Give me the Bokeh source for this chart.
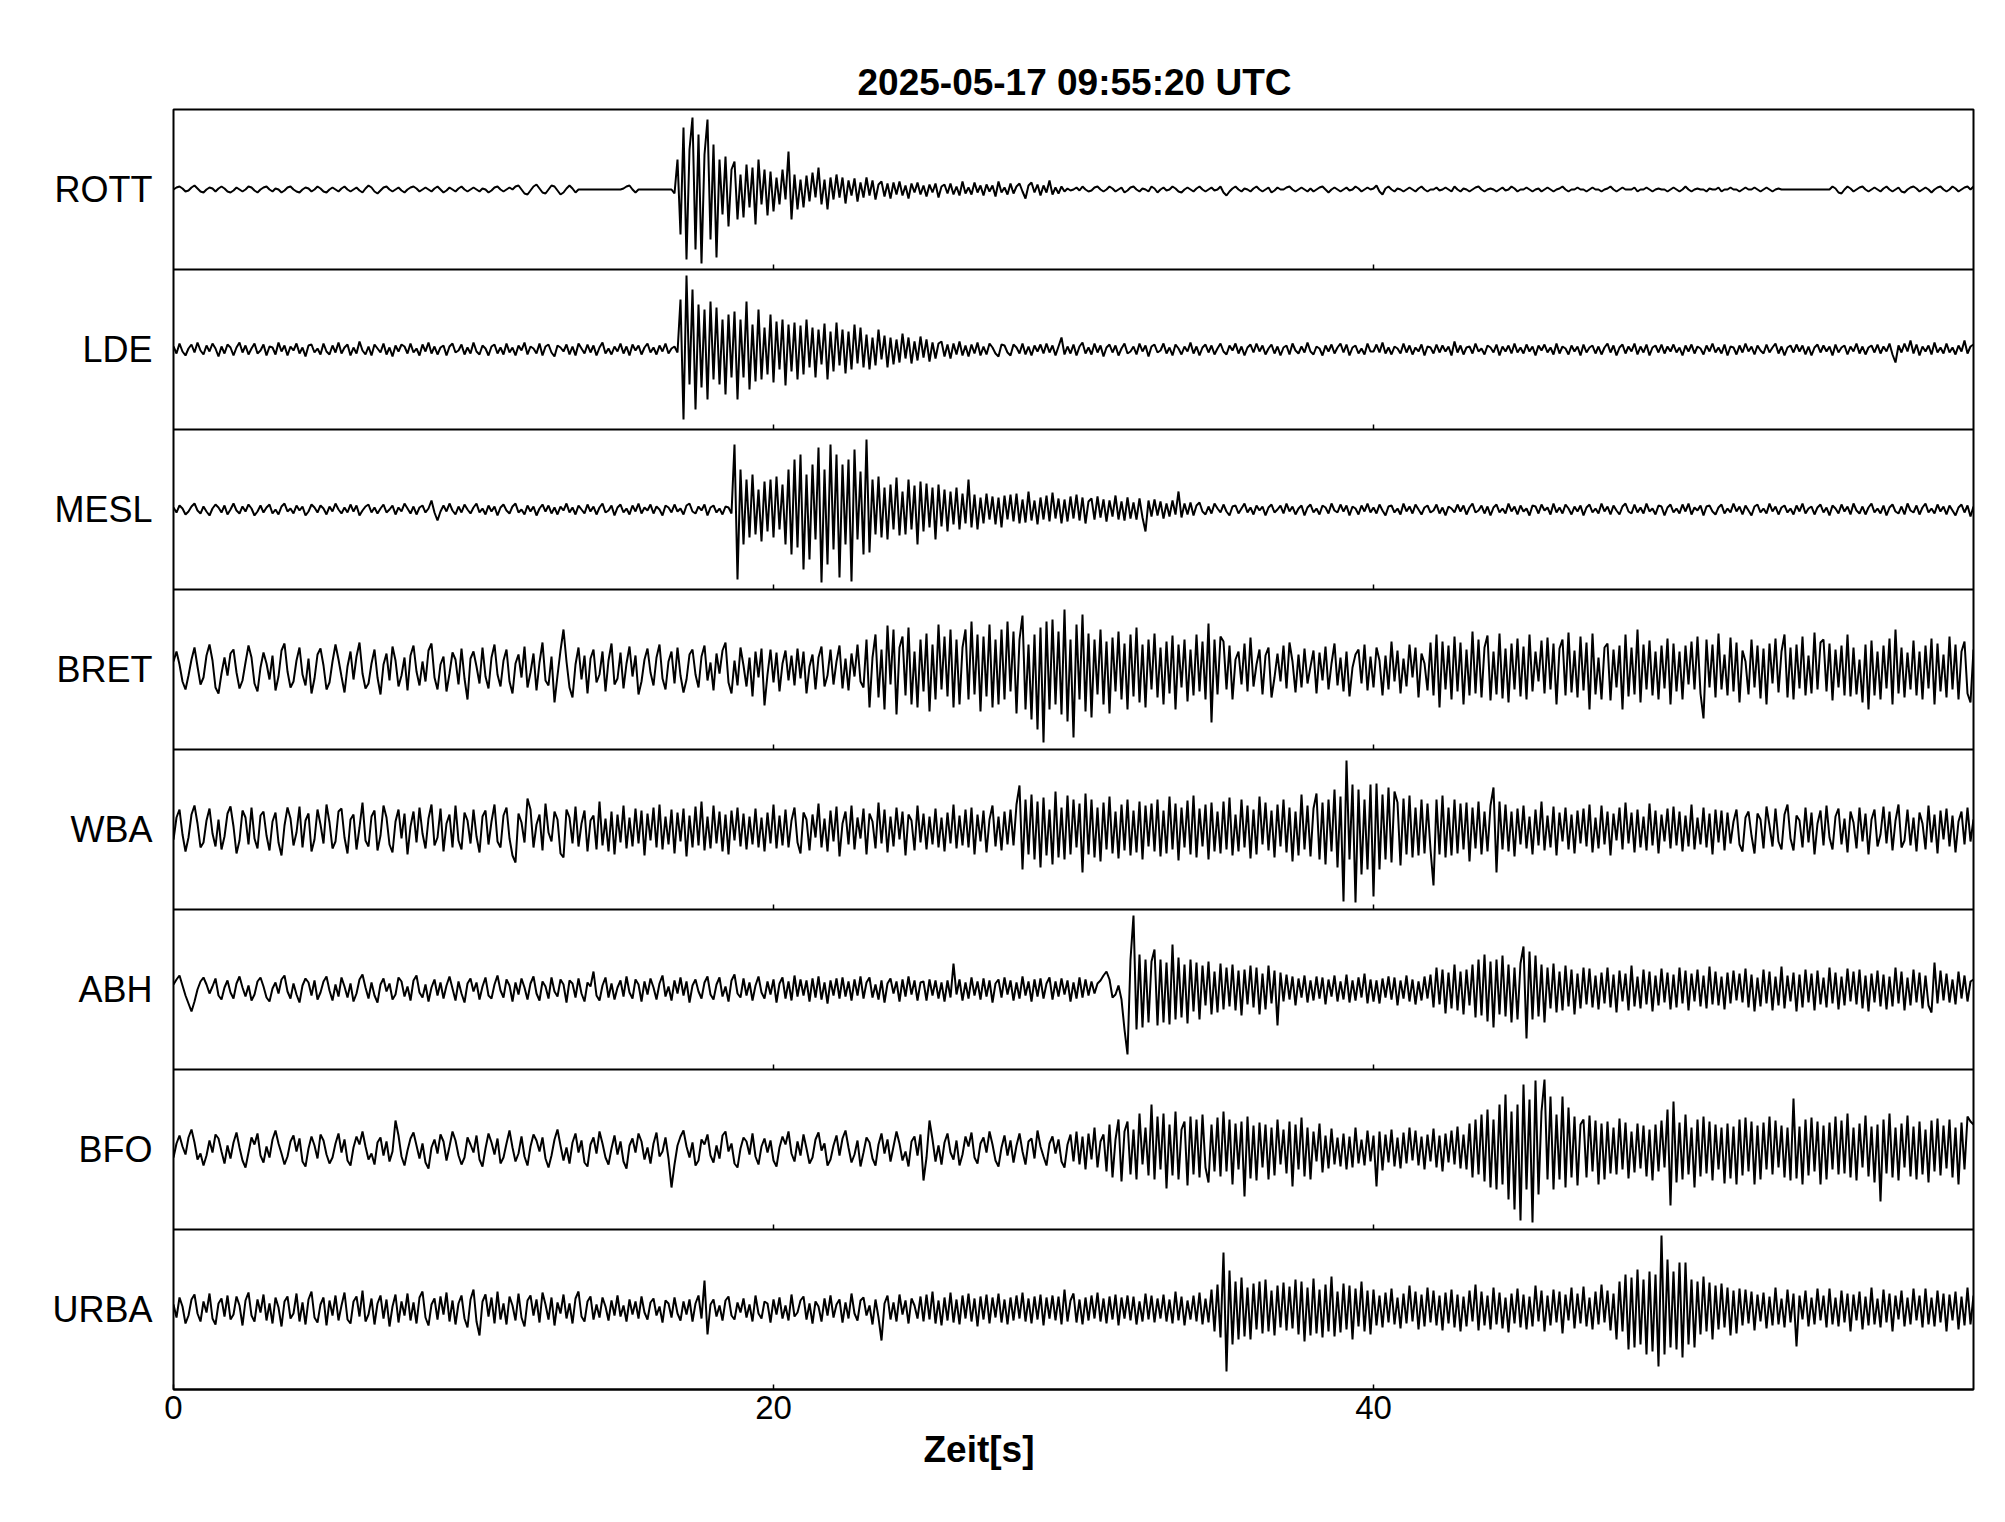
from bokeh.plotting import figure
from bokeh.models import FixedTicker, Span, Title
from bokeh.embed import file_html
from bokeh.resources import INLINE

TITLE = "2025-05-17  09:55:20 UTC"
X_LABEL = "Zeit[s]"
STATIONS = ["ROTT", "LDE", "MESL", "BRET", "WBA", "ABH", "BFO", "URBA"]
X_TICKS = [0, 20, 40]
X_MAX = 60
DT = 0.1  # seconds between samples (one row below = one second)

# trace deflections, units: 1/160 of a panel height (positive = up)
rott = [
    0, 2, 3, 1, -2, -1, 2, 4, 1, -2,
    -3, 0, 2, 1, -2, 1, 3, 1, -2, -3,
    -1, 2, 0, -2, 0, 3, 2, -1, -3, 0,
    2, 3, 0, -2, 1, 0, -3, -1, 2, 3,
    0, -2, -3, 0, 2, 1, -2, 0, 3, 1,
    -2, -3, 0, 2, 0, -2, 1, 3, 0, -2,
    0, 2, -1, -3, 1, 4, 2, -2, -4, -1,
    2, 3, 0, -2, 0, 2, -1, -3, 0, 2,
    3, 1, -2, 0, 2, 0, -2, 1, 3, 0,
    -3, -1, 2, 0, -2, 1, 3, 0, -2, 0,
    2, 0, -2, 1, 0, -3, -1, 2, 3, 0,
    -2, 0, 2, 0, 3, 4, 0, -4, -5, -1,
    3, 5, 1, -3, -4, 0, 4, 3, -1, -5,
    -3, 1, 4, 1, -3, 0, 0, 0, 0, 0,
    0, 0, 0, 0, 0, 0, 0, 0, 0, 0,
    1, 3, 4, 0, -3, 0, 0, 0, 0, 0,
    0, 0, 0, 0, 0, 0, 0, -4, 30, -45,
    62, -70, 40, 72, -60, 55, -74, 35, 70, -50,
    45, -68, 30, -25, 33, -37, 20, 28, -30, 15,
    -28, 25, -18, 22, -35, 30, -15, 20, -26, 18,
    -22, 12, -15, 20, -10, 38, -30, 15, -20, 10,
    -18, 14, -12, 17, -8, 22, -15, 10, -20, 12,
    -10, 15, -8, 12, -14, 9, -6, 11, -12, 7,
    -8, 12, -6, 9, -10, 5, 8, -7, 6, -9,
    7, -5, 8, -6, 4, -9, 6, -3, 7, -5,
    4, -7, 5, -3, 6, -8, 3, 5, -4, 6,
    -5, 3, -6, 8, -4, 2, -5, 7, -3, 4,
    -6, 5, -2, 4, -7, 8, -3, 2, -5, 6,
    -4, 3, 6, -2, -9, 4, 7, -3, 5, -6,
    4, -3, 9, -5, 2, -4, 3, -2, 1, -1,
    0, 2, -1, 3, 0, -2, -1, 2, 3, 0,
    -2, 0, 3, 1, -2, 0, 2, -3, -1, 2,
    3, 0, -2, 1, 0, -2, 3, 1, -3, 0,
    2, -1, 0, 3, 1, -2, -3, 0, 2, 0,
    -2, 1, 3, 0, -2, 0, 2, -1, 0, 3,
    -3, -6, -2, 1, 3, 0, -2, 1, 0, -2,
    1, 3, 0, -2, 0, 2, -3, -1, 2, 0,
    0, 2, 3, 0, -2, 0, 2, 0, -2, 1,
    -2, 0, 2, 3, 0, -3, 0, 2, 0, -2,
    0, 2, -1, 0, 3, 1, -2, 0, 2, 0,
    1, 4, -2, -5, 1, 3, 0, -2, 1, 0,
    -2, 0, 2, 0, -2, 1, 3, 0, -2, 0,
    0, 2, -1, 0, 2, 0, -2, 3, 0, -2,
    1, 0, -2, 0, 2, 3, 0, -2, 0, 1,
    0, -2, 0, 2, -1, 0, 3, 1, -2, 0,
    0, 2, 0, -2, 0, 1, -2, 0, 2, 0,
    -2, 0, 1, 3, 0, -2, 0, 0, 2, 0,
    0, -2, 0, 2, 0, 0, -2, 0, 1, 3,
    0, -2, 0, 2, 0, 0, 0, 2, -2, 0,
    0, 2, 0, -2, 0, 1, 0, 0, -2, 0,
    2, 0, -2, 0, 3, 0, -2, 0, 1, 0,
    0, -2, 1, 0, 0, 2, -2, 0, 0, 2,
    0, 0, -2, 0, 2, 0, 0, 2, 0, -2,
    0, 2, 0, -2, 0, 1, 0, 0, 0, 0,
    0, 0, 0, 0, 0, 0, 0, 0, 0, 0,
    0, 0, 0, 3, 1, -3, -4, 0, 3, 1,
    -2, 0, 2, 3, 0, -2, 0, 2, 0, -2,
    1, 3, 0, -2, 0, 2, -2, -3, 0, 2,
    3, 1, -2, 0, 2, 0, -3, 0, 2, 3,
    0, -2, 0, 3, 1, -2, 0, 2, 3, 0,
    3]

lde = [
    3, -4, 6, -2, -6, 1, 5, -3, 7, -1,
    -5, 4, -2, 6, 1, -7, 3, -4, 5, 2,
    -6, 2, 7, -3, 4, -5, 1, 6, -4, -1,
    5, -6, 3, 2, -5, 7, -2, 4, -6, 3,
    -1, 6, -4, 2, -7, 4, 5, -3, 1, -5,
    6, -2, -5, 4, -3, 7, -4, 2, 5, -6,
    2, -4, 8, -1, -5, 3, -6, 5, 1, -3,
    6, -5, 2, -7, 4, -2, 5, 3, -4, 6,
    -3, 1, -6, 5, -2, 7, -4, 3, -5, 2,
    4, -6, 3, 6, -3, -1, 5, -5, 2, -4,
    7, -2, -5, 4, 1, -6, 3, 5, -4, 2,
    -5, 6, -3, 2, -6, 4, -1, 7, -5, 3,
    1, -4, 6, -6, 3, 5, -3, -7, 4, 2,
    -2, 5, -5, 3, -6, 6, 1, -4, 5, -3,
    4, -6, 2, 7, -4, 1, -5, 3, -2, 6,
    -4, 3, -6, 5, -1, 4, -5, 2, 6, -3,
    2, -5, 4, -2, 6, -4, 1, 3, -3, 50,
    -70, 74, -35, 60, -60, 45, -38, 40, -50, 48,
    -30, 42, -35, 30, -45, 35, -28, 38, -50, 30,
    -28, 48, -40, 25, -32, 40, -30, 22, -25, 35,
    -33, 28, -20, 30, -36, 25, -22, 27, -30, 24,
    -25, 30, -18, 22, -28, 20, -15, 26, -30, 18,
    -22, 27, -16, 20, -24, 18, -20, 25, -14, 22,
    -18, 15, -20, 12, -16, 20, -10, 14, -18, 12,
    -15, 10, -13, 16, -9, 12, -14, 8, -11, 13,
    -8, 10, -12, 7, -9, 6, 8, -7, 5, -9,
    6, -5, 8, -6, 4, -7, 5, -4, 7, -6,
    3, -5, 6, 2, -4, -7, 5, 4, -3, -6,
    5, 2, -4, 6, -5, 3, -6, 4, -2, 5,
    -4, 6, -3, 4, -6, 3, 12, -5, 3, -4,
    5, -6, 3, 7, -4, 2, -5, 6, -3, 4,
    -7, 2, 5, -3, 4, -6, 1, 6, -4, -2,
    3, -5, 6, -2, 4, -7, 3, 5, -3, -1,
    6, -4, 2, -6, 5, 1, -5, 3, -2, 7,
    -4, 3, -6, 2, 5, -3, 4, -5, 1, 6,
    -2, -5, 4, -1, 6, -4, 3, -6, 2, 5,
    -3, 6, -2, 4, -5, 1, 5, -4, 3, -6,
    2, 4, -5, 6, -1, -4, 3, -3, 7, -2,
    -5, 3, 1, -6, 4, -2, 5, -4, 2, 6,
    -3, 5, -6, 2, 4, -4, 1, -5, 6, -2,
    -2, 5, -3, 7, -4, 2, -5, 3, 1, -4,
    6, -3, 4, -5, 2, -2, 5, -6, 3, 2,
    -4, 5, -3, 4, -2, 3, -6, 8, -3, 4,
    -5, 2, 3, -4, 6, -2, 1, -5, 4, 2,
    -3, 5, -6, 3, -2, 4, -4, 6, -3, 2,
    -4, 5, -2, 3, -6, 4, -1, 5, -3, 2,
    -5, 6, -4, 3, 1, -5, 4, -2, 3, -6,
    5, -3, 2, 4, -4, 3, -5, 2, 6, -3,
    4, -6, 2, 5, -4, 3, -2, 6, -5, 3,
    -3, 5, -6, 2, 4, -3, 5, -4, 3, -2,
    5, -3, 2, -6, 4, -2, 5, -4, 3, 1,
    -5, 4, -2, 6, -3, 2, -4, 5, -6, 3,
    2, -5, 4, -3, 6, -2, 3, -5, 4, -1,
    -4, 5, -3, 2, 6, -4, 3, -6, 2, 4,
    -3, 5, -2, 4, -5, 3, -6, 2, 5, -3,
    4, -2, 3, -6, 5, -3, 2, 4, -5, 3,
    -2, 6, -4, 3, -5, 2, 4, -3, 5, -4,
    3, -2, 6, -5, -13, 4, -3, 6, -2, 9,
    -4, 5, -6, 3, -2, 4, -5, 7, -3, 2,
    -4, 6, -3, 2, -5, 4, -2, 9, -4, 3,
    5]

mesl = [
    2, -3, 4, 1, -5, -2, 3, 6, -1, -4,
    3, -2, -6, 1, 5, 2, -3, 4, -5, 0,
    6, -1, -4, 3, -2, 5, 1, -6, -2, 4,
    -3, 2, 5, -4, 0, -5, 3, 6, -2, 1,
    -4, 4, -1, 3, -6, -2, 5, 2, -3, 4,
    1, -5, 3, -2, 6, 0, -4, 2, -3, 5,
    -2, 4, -6, -1, 3, 5, -3, 2, -4, 1,
    5, -3, 0, 4, -5, 2, -2, 6, 1, -4,
    3, -5, 2, 4, -3, 1, 9, -3, -11, -2,
    4, -2, 6, -1, -5, 3, -3, 5, 0, -4,
    2, 6, -3, 1, -5, 4, -2, 3, -6, 2,
    5, -1, -4, 3, 6, -3, 0, -5, 4, -2,
    3, -6, 1, 5, -2, 4, -4, 2, -5, 3,
    -1, 6, -3, 2, -5, 4, 0, -4, 5, -2,
    3, -5, 2, 6, -3, -1, 4, -6, 2, 5,
    -3, 1, -5, 4, -2, 6, -4, 2, -1, 5,
    -4, 3, 0, -6, 4, 2, -3, 5, -2, 1,
    -5, 4, 6, -2, -4, 3, -1, 5, -6, 2,
    4, -3, 1, -5, 3, 2, -4, 65, -70, 40,
    -35, 30, -28, 35, -25, 20, -32, 28, -22, 30,
    -28, 33, -20, 25, -35, 40, -45, 50, -38, 55,
    -60, 35, -50, 45, -30, 62, -73, 40, -55, 65,
    -40, 55, -68, 45, -35, 50, -72, 60, -30, 38,
    -45, 70, -43, 30, -25, 33, -28, 22, -30, 25,
    -20, 32, -26, 18, -25, 30, -20, 24, -35, 28,
    -22, 26, -18, 22, -30, 25, -17, 20, -22, 18,
    -15, 22, -20, 16, -14, 30, -18, 15, -20, 12,
    -14, 16, -10, 13, -15, 12, -18, 14, -10, 15,
    -12, 16, -14, 10, -13, 18, -11, 9, -15, 12,
    -10, 14, -12, 17, -9, 11, -14, 10, -12, 13,
    -9, 15, -11, 12, -14, 8, 11, -10, 13, -8,
    10, -12, 9, -7, 14, -10, 8, -11, 12, -9,
    7, -10, 11, -8, -22, 9, -7, 10, -6, 8,
    -9, 6, -7, 9, -5, 18, -8, 6, -5, 7,
    -6, 4, 7, -2, -5, 3, -4, 6, 1, -3,
    5, -2, -6, 3, 4, -4, 1, 6, -3, 2,
    -5, 4, -1, 3, -6, 2, 5, -3, 0, 4,
    -4, 6, -2, 3, -5, 1, 4, -6, 2, 5,
    -3, 1, -5, 4, 2, -4, 6, -1, -3, 5,
    -2, 4, -6, 3, 1, -5, 4, -2, 6, -3,
    2, -4, 5, -1, -6, 3, 4, -3, 1, -5,
    6, -2, 3, -4, 5, 0, -5, 2, 4, -3,
    -1, 5, -4, 2, -6, 3, 1, -3, 5, -2,
    4, -5, 2, 6, -3, -1, 4, -4, 3, -6,
    2, 5, -3, 1, -4, 6, -2, 3, -5, 4,
    -2, 1, -6, 4, 3, -4, 5, -1, 2, -5,
    6, -3, 2, -4, 5, 1, -5, 3, -2, 4,
    -6, 2, 5, -3, 1, -4, 6, -2, 3, -5,
    4, -1, -5, 3, 6, -2, -4, 5, -3, 2,
    -4, 6, -2, 1, -5, 4, 3, -6, 2, 5,
    -3, 1, -4, 5, -2, 6, -5, 2, -1, 4,
    -6, 3, 4, -2, -5, 2, 5, -4, 1, -3,
    6, -2, 3, -5, 4, -1, -6, 3, 5, -3,
    1, -4, 6, -2, 3, -5, 2, 4, -3, 1,
    -5, 4, -2, 6, -4, 1, 3, -5, 2, 5,
    -3, 2, -6, 4, 1, -4, 5, -2, 3, -5,
    6, -1, -4, 3, -5, 2, 6, -3, 1, -4,
    4, -6, 2, 5, -2, -4, 3, -5, 6, -1,
    -3, 4, -5, 2, 6, -3, 1, -4, 5, -2,
    3, -5, 4, -1, -6, 2, 5, -3, 4, -7,
    3]

bret = [
    8, 18, 5, -12, -20, -6, 10, 22, 3, -15,
    -8, 14, 25, 9, -18, -24, -4, 12, -6, 16,
    20, -3, -19, -11, 7, 24, 12, -14, -22, 2,
    17, 6, -10, 14, -21, -7, 19, 26, -2, -18,
    -12, 9, 22, -5, -16, 11, -24, -9, 15, 21,
    4, -20, -13, 8, 25, 10, -7, -23, 3, 18,
    -10, 13, 27, -4, -19, -14, 6, 20, -8, -25,
    5, 16, -11, 23, 9, -17, -6, 12, -21, 14,
    24, -2, -16, 8, -12, 19, 26, -8, -20, 5,
    13, -22, -4, 17, 10, -15, 21, -9, -30, 11,
    18, 3, -14, 22, -7, -19, 12, 25, -5, -17,
    9, 20, -12, -24, 6, 15, -8, 23, -18, -3,
    16, -21, 7, 27, -11, -16, 13, -33, -6, 19,
    40, 8, -18, -28, 5, 22, -10, 14, -24, 11,
    20, -13, -5, 18, -22, 9, 26, -15, -9, 17,
    -19, 6, 23, -7, 14, -25, -12, 10, 21, -3,
    -16, 12, 25, -9, -20, 8, 18, -14, 22, -6,
    -23, -10, 15, 20, -5, -18, 13, 24, -11, 7,
    -21, 16, -4, 19, 27, -13, -24, 9, -16, 22,
    4, -17, 12, -27, 18, -8, 21, -36, -5, 20,
    -13, 17, -22, 6, 19, -11, 14, -16, 21, -9,
    18, -24, 3, 15, -20, 12, 23, -17, -6, 20,
    -15, 8, 24, -19, 11, -21, 16, -7, 25, -12,
    -18, 30, -38, 12, 35, -28, 20, -40, 44, -15,
    40, -45, 22, 33, -26, 42, -35, 18, -38, 30,
    -22, 36, -42, 25, -30, 45, -20, 33, -27, 40,
    -38, 30, -35, 22, 40, -30, 48, -25, 35, -42,
    33, -27, 45, -38, 30, -35, 40, -30, 48, -22,
    38, -44, 30, 54, -40, 25, -50, 35, -60, 42,
    -73, 48, -40, 50, -35, 38, -45, 60, -52, 30,
    -68, 45, -30, 55, -42, 36, -48, 30, -25, 40,
    -35, 28, -44, 32, -22, 38, -30, 26, -40, 35,
    -27, 42, -33, 25, -38, 30, -20, 36, -28, 22,
    -35, 28, -24, 34, -40, 25, -18, 30, -32, 20,
    -26, 35, -22, 28, -30, 46, -53, 30, -25, 33,
    28, -20, 24, -30, 10, 18, -15, 26, -22, 32,
    -17, 5, 20, -25, 14, 22, -28, -8, 16, -12,
    24, -19, 27, 8, -23, 15, -18, 21, -14, 3,
    19, -24, 17, -11, 23, -20, 6, 26, -16, 12,
    -22, 18, -27, 2, 15, 20, -14, 25, -21, 13,
    -18, 22, 9, -26, 14, -20, 28, -12, 19, -24,
    11, -17, 25, -8, 22, -28, 16, 6, -21, 27,
    -26, 35, -38, 28, -20, 24, -30, 33, -22, 27,
    -35, 20, -26, 38, -24, 30, -28, 22, 34, -31,
    18, -25, 36, -29, 21, -33, 26, -20, 31, -27,
    23, -30, 35, -22, 18, -12, 29, -24, 32, -20,
    26, -35, 21, 30, -26, 37, -23, 19, -28, 33,
    -21, 27, -40, 36, -25, 12, -30, 22, 26, -31,
    20, -18, 24, -40, 35, -27, 22, -25, 40, -33,
    25, -20, 29, -26, 18, -30, 24, -19, 31, -35,
    26, -22, 18, -30, 24, -15, 28, -20, 33, -24,
    -49, 30, -18, 25, -28, 36, -20, 15, -26, 32,
    -22, 27, -33, 19, 8, -25, 30, -18, 24, -29,
    21, -35, 26, -14, 31, -23, 18, 35, -28, 22,
    -30, 25, -19, 33, -26, 14, -24, 37, -20, 27,
    30, -22, 26, -31, 20, -18, 24, -26, 35, -27,
    22, -25, 10, -33, 25, -40, 29, -26, 18, -30,
    24, -19, 31, -35, 40, -24, 22, -28, 17, -20,
    29, -26, 18, -30, 24, -19, 31, -35, 26, -22,
    15, -28, 33, -20, 25, -30, 18, 28, -24, -33,
    20]

wba = [
    -10, 12, 20, -5, -22, -8, 15, 24, 6, -18,
    -13, 9, 21, -4, -17, 10, -20, -7, 16, 23,
    3, -24, -11, 19, 12, -15, 22, -9, -19, 14,
    18, -6, -21, 8, 17, -13, -26, 4, 22, 11,
    -16, -3, 23, -18, 9, 16, -22, -10, 20, 5,
    -14, 25, 7, -19, -12, 18, 21, -8, -24, 10,
    15, -20, 2, 27, -11, -17, 13, 19, -21, -6,
    24, 12, -15, -23, 8, 20, -9, 16, -25, 3,
    18, -13, 22, -4, -19, 11, 25, -16, -8, 21,
    -22, 6, 15, -18, 24, -11, -20, 17, 9, -14,
    20, -7, -23, 13, 19, -15, 8, 25, -12, -18,
    14, 22, -9, -26, -33, 16, 7, -13, 31, 20,
    -18, 5, 15, -21, 26, -3, -12, 18, 10, -24,
    -28, 20, 12, -14, 23, -17, 6, 19, -22, 9,
    14, -20, 28, -16, 11, -22, 18, -25, 15, -13,
    24, -19, 12, -17, 21, -14, 19, -26, 16, -11,
    22, -18, 25, -20, 13, -15, 20, -24, 17, -12,
    21, -27, 14, -18, 23, -16, 28, -21, 13, -19,
    24, -14, 18, -22, 15, -25, 19, -11, 22, -17,
    16, -20, 13, -15, 21, -18, 12, -22, 17, -14,
    25, -19, 14, -16, 20, -18, 9, 22, -13, -24,
    17, 10, -21, 15, -8, 26, -18, 11, -22, 19,
    -12, 23, -27, 6, 18, -15, 24, -20, 12, -9,
    21, -25, 16, 8, -19, 27, -14, 20, -23, 13,
    -17, 22, -10, 18, -26, 15, 9, -21, 24, -13,
    16, -20, 13, -15, 21, -18, 12, -22, 17, -14,
    25, -19, 14, -16, 20, -18, 22, -25, 15, -12,
    19, -23, 10, 24, -17, 13, -21, 18, -15, 20,
    -16, 25, 44, -40, 30, -25, 35, -30, 28, -38,
    32, -26, 20, -35, 38, -28, 22, -30, 34, -25,
    30, -18, 26, -43, 36, -25, 30, -28, 22, -32,
    27, -20, 33, -24, 18, -29, 25, -21, 30, -26,
    19, -23, 28, -30, 24, -17, 26, -22, 30, -27,
    19, -24, 33, -20, 26, -31, 22, -18, 29, -25,
    34, -28, 21, -17, 25, -30, 27, -22, 18, -24,
    28, -20, 32, -26, 15, -22, 30, -18, 24, -29,
    20, -25, 33, -15, 27, -21, 19, -28, 25, -17,
    30, -23, 22, -32, 18, -26, 35, -20, 24, -27,
    21, 36, -30, 27, -35, 30, -22, 40, -38, 33,
    -72, 69, -30, 45, -73, 40, -45, 30, -40, 45,
    -67, 46, -40, 35, -30, 42, -33, 38, 27, -36,
    31, -25, 34, -28, 22, -26, 30, -24, 26, -20,
    -56, 30, -25, 34, -28, 22, -26, 30, -24, 26,
    -20, 27, -32, 22, -19, 28, -25, 18, -22, 24,
    42, -43, 28, -20, 25, -22, 18, -27, 21, -15,
    24, -19, 13, -25, 20, -16, 28, -21, 14, -18,
    23, -26, 17, -12, 22, -20, 15, -24, 19, -14,
    21, -17, 25, -23, 12, -19, 24, -15, 18, -26,
    16, -11, 22, -20, 27, -14, 17, -23, 20, -18,
    13, -21, 26, -16, 19, -24, 15, -12, 21, -19,
    23, -16, 18, -22, 14, -17, 25, -20, 12, -15,
    22, -18, 16, -25, 20, -13, 19, -21, 17, -14,
    8, 20, -15, -22, 12, 18, -6, -24, 16, 10,
    -19, 23, 4, -17, 21, -12, -20, 15, 25, -9,
    -21, 14, 9, -18, 22, -13, 17, -25, 6, 19,
    -16, 24, -8, -20, 13, 21, -15, 11, -23, 18,
    7, -19, 22, -12, 16, -25, 10, 20, -17, -5,
    23, -14, 18, -21, 9, 25, -18, -11, 20, -16,
    12, -22, 17, 6, -20, 24, -13, 15, -24, 19,
    -10, 21, -17, 14, -23, 8, 18, -15, 22, -12,
    10]

abh = [
    5, 10, 14, 4, -6, -14, -22, -12, 0, 8,
    12, 5, -4, 3, 11, -6, -10, 2, 9, -3,
    -9, 6, 13, 2, -7, 4, -11, -5, 8, 12,
    3, -8, -12, 1, 7, -4, 10, 14, -2, -9,
    6, -5, -13, 4, 11, 7, -6, 9, -10, -3,
    8, 13, -1, -11, 5, -7, 12, 3, -8, 6,
    -12, -4, 10, 15, 2, -9, 7, -6, -13, 5,
    11, -2, 6, -10, -5, 12, 8, -7, 3, -11,
    9, 14, -3, -8, 5, -12, 2, 10, -6, 7,
    -9, 4, 13, 1, -11, 8, -4, -13, 6, 11,
    -2, 7, -10, 3, 12, -6, -9, 5, 14, -1,
    -8, 10, 4, -12, 7, -5, 11, 2, -10, 6,
    13, -4, -11, 8, 3, -9, 12, -2, -7, 10,
    5, -13, 9, 6, -8, 11, -4, -12, 7, 3,
    18, -6, -11, 4, 12, -8, 6, -10, 2, 9,
    -7, 13, -3, -9, 10, 5, -12, 8, -5, 11,
    2, -10, 6, 14, -7, 3, -11, 9, -4, 12,
    -6, 8, -13, 4, 10, -2, -9, 7, 13, -5,
    -10, 5, 12, -7, 3, -12, 9, 15, -4, -8,
    11, -6, 7, -11, 4, 13, -3, -9, 8, -5,
    10, -13, 6, 12, -9, 8, -11, 14, -7, 10,
    -6, 9, -12, 11, -8, 13, -10, 7, -14, 9,
    -6, 11, -9, 12, -7, 8, -11, 10, -6, 13,
    -9, 7, 12, -8, 5, -10, 9, -13, 6, 11,
    -4, 8, -12, 10, -7, 13, -5, 9, -11, 7,
    8, -11, 10, -6, 9, -9, 7, -12, 9, -8,
    26, -5, 10, -11, 7, -9, 12, -6, 8, -10,
    11, -7, 9, -13, 6, 10, -8, 12, -5, 9,
    -11, 7, -9, 13, -6, 8, -12, 10, -7, 11,
    -9, 6, 12, -10, 8, -7, 11, -5, 9, -12,
    7, -9, 12, -8, 10, -6, 8, -4, 6, 9,
    14, 18, 10, -8, -5, 4, -10, -40, -65, 30,
    74, -40, 35, -38, 30, -33, 28, 40, -36, 30,
    -33, 27, -35, 45, -30, 32, -28, 25, -34, 30,
    -22, 27, -30, 24, -16, 28, -25, 18, -23, 26,
    -20, 22, -17, 25, -21, 19, -26, 20, -15, 24,
    -18, 22, -25, 16, -20, 24, -14, 19, -36, 17,
    -12, 15, -10, 13, -16, 11, -8, 14, -13, 9,
    -11, 13, -9, 12, -15, 10, -7, 14, -12, 8,
    -10, 15, -13, 9, -11, 12, -8, 16, -14, 10,
    -12, 9, -14, 11, -8, 13, -10, 12, -16, 9,
    -9, 14, -12, 10, -15, 8, -11, 13, -9, 15,
    -18, 22, -15, 20, -24, 17, -19, 25, -21, 18,
    -25, 20, -16, 25, -28, 30, -26, 35, -32, 28,
    -38, 30, -25, 34, -27, 25, -33, 22, -30, 26,
    43, -49, 38, -30, 34, -27, 25, -33, 22, -19,
    26, -23, 18, -21, 24, -17, 20, -25, 16, -19,
    22, -15, 21, -18, 14, -20, 17, -14, 22, -18,
    15, -23, 19, -12, 16, -21, 24, -17, 13, -19,
    20, -15, 18, -22, 14, -16, 21, -13, 17, -20,
    15, -18, 22, -14, 19, -21, 16, -12, 20, -17,
    14, -19, 23, -15, 18, -16, 13, -20, 17, -14,
    19, -11, 16, -13, 21, -18, 15, -22, 12, -17,
    20, -14, 18, -21, 13, -16, 23, -19, 14, -12,
    17, -22, 15, -18, 20, -13, 16, -21, 19, -15,
    12, -18, 22, -14, 17, -20, 13, -16, 21, -12,
    18, -15, 20, -19, 14, -22, 16, -13, 19, -17,
    15, -20, 13, -17, 22, -14, 18, -21, 12, -16,
    20, -13, 17, -19, 14, -16, -23, 27, -14, 19,
    -11, 16, -13, 10, -15, 18, -9, 14, -12, 8,
    10]

bfo = [
    -8, 6, 14, 3, -5, 12, 20, 7, -10, -4,
    -16, -6, 9, -3, 15, 11, -2, -14, 4, -9,
    7, 17, 2, -11, -18, -3, 12, 5, 16, -6,
    -13, 3, -8, 10, 19, 6, -4, -15, -7, 8,
    14, -2, 11, -12, -17, 1, 13, 4, -9, 15,
    9, -5, -14, -8, 6, 16, -3, 10, -11, -16,
    2, 13, 5, 18, 3, -10, -4, -15, 7, 12,
    -6, 8, -12, -2, 29, 14, -7, -16, -1, 11,
    17, 4, -9, 6, -13, -19, 2, 10, -4, 15,
    8, -11, 3, 18, 9, -6, -15, -8, 12, 5,
    -3, 14, -10, -17, 1, 16, 7, -5, 11, -14,
    -8, 6, 19, 2, -12, -4, 13, -7, -16, 3,
    15, 9, -2, 12, -9, -18, -6, 10, 20, 4,
    -11, 2, -14, 7, 16, -3, 9, -13, -17, 5,
    12, -4, 18, 6, -8, -15, 1, 14, -5, 8,
    -12, -19, 4, 11, -3, 16, 8, -10, 2, -14,
    6, 17, -7, -2, 12, -9, -38, -15, 4, 13,
    19, 3, -8, 7, -16, -11, 10, 5, 15, -6,
    -13, 4, -9, 14, 18, -2, 6, -14, -18, 1,
    12, 8, -5, 16, -7, -15, 3, 11, -3, 9,
    -11, -17, 2, 13, 5, 18, -4, -12, 8, -6,
    15, 1, -14, -8, 10, 17, -1, 6, -16, -10,
    4, 14, -6, 11, 19, 2, -13, -5, 9, -17,
    -3, 12, 7, -9, -16, 5, 16, -4, 10, -12,
    3, 18, 6, -11, -2, -17, 8, 13, -6, 15,
    -31, -8, 29, 10, -12, 4, -15, 7, 16, -3,
    -10, 9, -16, -5, 13, 3, 17, -8, -14, 6,
    12, -3, 18, 5, -11, -17, 2, 14, -6, 9,
    -13, 4, 16, -2, -15, 8, 11, -9, 19, 3,
    -7, -16, 6, 13, -4, 10, -12, -18, 5, 15,
    -12, 18, -15, 13, -20, 16, -10, 22, -18, 8,
    15, -22, 25, -28, 10, 30, -32, 18, 28, -25,
    20, -30, 36, -15, 22, -26, 45, -30, 33, -20,
    36, -39, 25, -26, 38, -30, 20, 28, -36, 33,
    -25, 30, -28, 35, -18, -33, 25, -22, 32, -27,
    38, -22, 30, -35, 26, -20, 28, -47, 33, -29,
    24, -31, 27, -18, 25, -30, 22, -26, 30, -15,
    20, -24, 28, -37, 25, -20, 32, -27, 22, -30,
    18, -12, 26, -23, 14, -19, 21, -15, 12, -17,
    16, -20, 13, -18, 22, -14, 10, -16, 19, -12,
    14, -37, 18, -21, 15, -13, 20, -17, 12, -19,
    17, -14, 22, -11, 19, -16, 13, -20, 15, -12,
    21, -18, 14, -22, 16, -13, 19, -15, 23, -19,
    15, -20, 26, -28, 30, -25, 35, -32, 40, -38,
    30, -40, 45, -35, 55, -50, 38, -60, 45, -71,
    65, -40, 50, -73, 69, -45, 38, 70, -30, 53,
    -40, 35, -30, 53, -38, 42, -28, 33, -36, 25,
    30, -28, 34, -22, 29, -35, 26, -30, 28, -24,
    22, -25, 31, -20, 27, -29, 18, -23, 26, -19,
    24, -27, 20, -31, 25, -22, 29, -18, 40, -56,
    48, -33, 27, -30, 35, -25, 22, -38, 30, -27,
    33, -24, 28, -31, 25, -20, 22, -34, 26, -29,
    23, -35, 30, -26, 32, -22, 28, -35, 24, -30,
    27, -20, 33, -25, 29, -18, 24, -28, 22, -31,
    51, -29, 23, -35, 30, -26, 32, -22, 28, -35,
    24, -30, 27, -20, 33, -25, 29, -24, 36, -28,
    22, -31, 26, -18, 34, -27, 23, -33, 25, -52,
    30, -24, 36, -28, 22, -31, 26, -18, 34, -27,
    23, -30, 28, -25, 20, -33, 29, -22, 31, -26,
    24, -19, 30, -28, 22, -35, 27, -20, 33, 28,
    25]

urba = [
    5, -8, 12, 3, -14, -6, 10, 15, -4, -12,
    8, -3, 16, -9, -15, 6, 11, -7, 14, -10,
    -5, 13, 4, -16, 9, 17, -6, -12, 10, -3,
    15, -11, 6, -14, 12, 2, -17, 8, 13, -9,
    -4, 16, -12, 7, -15, 10, 18, -8, -13, 5,
    12, -16, 9, -6, 14, -11, 4, 17, -10, -14,
    8, 13, -7, 19, -12, -5, 11, -15, 6, 14,
    -9, 10, -17, 3, 15, -13, 8, -6, 16, -11,
    7, -14, 12, 18, -8, -16, 5, 11, -10, 13,
    -5, 17, -12, 9, -15, 6, 14, -9, -18, 10,
    20, -12, -26, 8, 15, -7, 12, -14, 18, -10,
    6, -15, 13, 4, -11, 16, -8, -17, 9, 14,
    -6, 10, -13, 17, 5, -10, 12, -16, 7, -4,
    15, -9, 6, -14, 11, 18, -7, -12, 8, 13,
    -10, 5, -8, 12, 3, -11, 9, -6, 14, -7,
    4, -12, 10, -5, 8, -9, 13, -3, -10, 7,
    11, -6, 3, -13, 9, 6, -8, 12, -4, -11,
    8, -5, 10, -12, 6, 14, -9, 29, -25, 5,
    10, -7, 4, -11, 9, 13, -6, -10, 7, -3,
    11, -8, 5, -12, 14, -4, -9, 8, 6, -13,
    10, -5, 12, -9, 4, -11, 15, -7, -3, 9,
    13, -10, 6, -14, 8, 3, -12, 11, -6, 14,
    -8, 5, 10, -13, 7, -9, 16, -4, -11, 9,
    12, -6, 4, -15, 10, -8, -31, 6, 14, -10,
    7, -12, 15, -5, 9, -14, 11, 4, -9, 13,
    -12, 15, -10, 18, -14, 9, -16, 12, -11, 17,
    -13, 10, -15, 14, -9, 16, -12, 11, -17, 13,
    -10, 15, -14, 12, -8, 16, -13, 10, -15, 12,
    -11, 14, -9, 17, -12, 11, -14, 13, -10, 15,
    -16, 12, -9, 14, -11, 13, -15, 20, -12, 9,
    16, -13, 10, -15, 12, -11, 14, -9, 17, -12,
    11, -14, 13, -10, 15, -16, 12, -9, 14, -11,
    13, -15, 8, -12, 16, -10, 14, -13, 11, -9,
    15, -12, 10, -14, 18, -11, 13, -16, 9, -10,
    14, -12, 17, -15, 11, -13, 20, -22, 25, -28,
    57, -62, 39, -35, 28, -30, 32, -27, 22, -30,
    26, -20, 28, -24, 30, -22, 19, -26, 24, -18,
    27, -21, 23, -19, 30, -25, 28, -32, 22, -26,
    31, -24, 20, -28, 25, -22, 33, -27, 18, -23,
    26, -20, 24, -30, 21, -17, 28, -22, 19, -25,
    20, -16, 14, -18, 17, -13, 21, -15, 12, -19,
    16, -14, 24, -12, 18, -20, 15, -17, 22, -13,
    19, -16, 14, -21, 17, -14, 20, -18, 15, -22,
    13, -17, 19, -12, 25, -21, 18, -16, 14, -20,
    22, -15, 17, -19, 12, -23, 16, -14, 21, -18,
    15, -20, 13, -17, 24, -12, 19, -22, 14, -16,
    20, -13, 18, -24, 15, -11, 22, -19, 16, -14,
    23, -17, 12, -20, 18, -15, 25, -13, 19, -21,
    16, -30, 28, -22, 35, -40, 32, -38, 40, -35,
    30, -45, 38, -42, 35, -57, 74, -45, 50, -38,
    38, -40, 47, -48, 47, -35, 30, -38, 28, -25,
    33, -22, 27, -30, 24, -20, 26, -18, 22, -26,
    19, -24, 21, -16, 20, -14, 18, -21, 15, -12,
    17, -19, 13, -16, 22, -15, 11, -18, 20, -13,
    16, -37, 14, -10, 19, -17, 12, -15, 21, -11,
    14, -18, 21, -15, 12, -17, 19, -13, 16, -22,
    15, -11, 18, -20, 13, -16, 22, -15, 11, -18,
    20, -13, 16, -22, 14, -10, 19, -17, 12, -15,
    21, -11, 14, -18, 21, -15, 12, -17, 19, -13,
    16, -22, 15, -11, 18, -20, 13, -16, 22, -15,
    14]

TRACES = [rott, lde, mesl, bret, wba, abh, bfo, urba]

# ---------------------------------------------------------------- styling
FONT = "Liberation Sans"
UNITS_PER_PANEL = 160.0
N = len(STATIONS)

p = figure(frame_width=1800, frame_height=1280,
           x_range=(0, X_MAX), y_range=(-0.5, N - 0.5),
           min_border_left=173, min_border_right=20,
           min_border_top=109, min_border_bottom=110,
           output_backend="svg", toolbar_location=None)

p.background_fill_color = "white"
p.border_fill_color = "white"
p.outline_line_color = "black"
p.outline_line_width = 2
p.outline_line_alpha = 1.0
p.xgrid.visible = False
p.ygrid.visible = False

p.add_layout(Title(text=TITLE, align="left", offset=684, standoff=14,
                   text_font=FONT, text_font_size="37px", text_font_style="bold",
                   text_color="black"), "above")

xa = p.xaxis[0]
xa.ticker = FixedTicker(ticks=X_TICKS)
xa.major_tick_in = 5
xa.major_tick_out = 0
xa.minor_tick_line_color = None
xa.major_tick_line_width = 1.5
xa.major_tick_line_color = "black"
xa.axis_line_color = "black"
xa.axis_line_width = 2
xa.major_label_text_font = FONT
xa.major_label_text_font_size = "33px"
xa.major_label_text_color = "black"
xa.major_label_standoff = 6

ya = p.yaxis[0]
centers = [N - 1 - i for i in range(N)]
ya.ticker = FixedTicker(ticks=centers)
ya.major_label_overrides = {c: s for c, s in zip(centers, STATIONS)}
ya.major_tick_line_color = None
ya.major_tick_in = 0
ya.major_tick_out = 0
ya.minor_tick_line_color = None
ya.axis_line_color = None
ya.major_label_text_font = FONT
ya.major_label_text_font_size = "36px"
ya.major_label_text_color = "black"
ya.major_label_standoff = 21

# panel separators with inward ticks
tick_len = 5 / UNITS_PER_PANEL
x0s, y0s, y1s = [], [], []
for k in range(1, N):
    b = N - 0.5 - k
    p.add_layout(Span(location=b, dimension="width", line_color="black", line_width=2))
    for t in X_TICKS:
        if t > 0:
            x0s.append(t)
            y0s.append(b)
            y1s.append(b + tick_len)
p.segment(x0=x0s, y0=y0s, x1=x0s, y1=y1s, line_color="black", line_width=1.5)

# traces
for i, vals in enumerate(TRACES):
    c = centers[i]
    xs = [j * DT for j in range(len(vals))]
    ys = [c + v / UNITS_PER_PANEL for v in vals]
    p.line(xs, ys, line_color="black", line_width=2)

p.add_layout(Title(text=X_LABEL, align="left", offset=750, standoff=10,
                   text_font=FONT, text_font_size="37px", text_font_style="bold",
                   text_color="black"), "below")

open("out.html", "w").write(file_html(p, INLINE))
